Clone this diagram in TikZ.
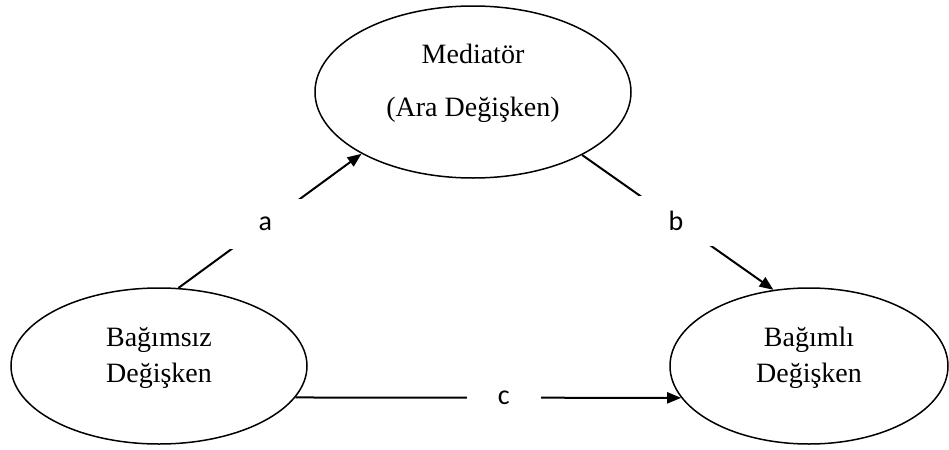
\documentclass[tikz,border=0pt]{standalone}
\usepackage{fontspec}
\setmainfont{Liberation Serif}
\newfontfamily\lblfont{Carlito}
\usetikzlibrary{shapes.geometric,arrows.meta}

\begin{document}
\begin{tikzpicture}[x=0.5pt,y=-0.5pt,
  var/.style = {shape=ellipse, draw, line width=0.75pt, inner sep=0pt},
  vartext/.style = {align=center, inner sep=0pt,
    font=\fontsize{14pt}{18pt}\selectfont},
  path/.style = {line width=1pt, -{Triangle[length=7pt,width=5.5pt]}},
  gap/.style = {fill=white, inner sep=0pt, minimum width=37pt,
    minimum height=25pt, font=\lblfont\fontsize{14pt}{16pt}\selectfont}]
  \useasboundingbox (0,0) rectangle (949,450);

  % the three variables
  \node[var, minimum width=158pt, minimum height=86pt] (med) at (473,92) {};
  \node[var, minimum width=148pt, minimum height=78pt] (ind) at (159,366) {};
  \node[var, minimum width=139pt, minimum height=78pt] (dep) at (809,366) {};

  \node[vartext] (medtext) at ([yshift=4.5pt]med.center) {Mediatör\\[8.5pt](Ara Değişken)};
  \node[vartext] (indtext) at ([yshift=4pt]ind.center) {Bağımsız\\Değişken};
  \node[vartext] (deptext) at ([yshift=4pt]dep.center) {Bağımlı\\Değişken};

  % paths a, b and c
  \draw[path] (ind.76) -- node[gap, pos=0.475] (a) {a} (med.209);
  \draw[path] (med.-30) -- node[gap, pos=0.49] (b) {b} (dep.115);
  \draw[path] (ind.-13) -- node[gap, pos=0.54] (c) {c} (dep.194);
\end{tikzpicture}
\end{document}
